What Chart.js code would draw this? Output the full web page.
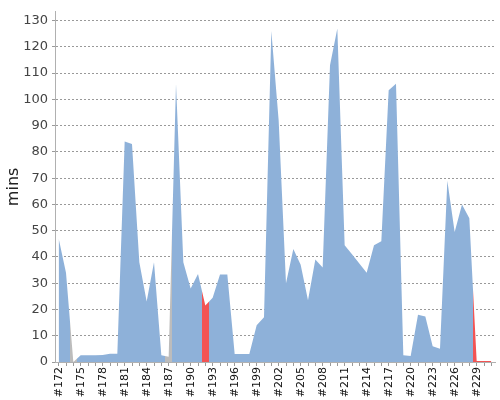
<!DOCTYPE html>
<html>
<head>
<meta charset="utf-8">
<script src="https://cdn.jsdelivr.net/npm/chart.js@4/dist/chart.umd.min.js"></script>
<style>
  html, body { margin: 0; padding: 0; background: #fff; }
  #wrap { width: 500px; height: 400px; }
</style>
</head>
<body>
<div id="wrap"><canvas id="trend"></canvas></div>
<script>
// Build numbers shown on the x axis
const builds = [
  172, 173, 174, 175, 176, 177, 178, 179, 180, 181,
  182, 183, 184, 185, 186, 187, 188, 189, 190, 191,
  192, 193, 194, 195, 196, 197, 198, 199, 200, 201,
  202, 203, 204, 205, 206, 207, 208, 209, 210, 211,
  212, 213, 214, 215, 216, 217, 218, 219, 220, 221,
  222, 223, 224, 225, 226, 227, 228, 229, 230, 231
];

// Duration of each build, in minutes
const durations = [
  47, 34, 0, 2.6, 2.6, 2.6, 2.7, 3.1, 3.1, 84,
  83, 38, 23, 38, 2.6, 2, 106, 38, 28, 33.5,
  21.5, 24.5, 33.3, 33.3, 3, 3, 3, 14, 17, 126,
  92, 30, 43, 37, 23.5, 39, 36, 113, 127, 44.5,
  41, 37.5, 34, 44.5, 46, 103.5, 106, 2.6, 2.3, 18,
  17.3, 6, 5, 69, 49.5, 60, 54.7, 0.4, 0.4, 0.4
];

// Result of each build: S = success, A = aborted, F = failed
const results = [
  'S', 'S', 'A', 'S', 'S', 'S', 'S', 'S', 'S', 'S',
  'S', 'S', 'S', 'S', 'S', 'A', 'S', 'S', 'S', 'S',
  'F', 'S', 'S', 'S', 'S', 'S', 'S', 'S', 'S', 'S',
  'S', 'S', 'S', 'S', 'S', 'S', 'S', 'S', 'S', 'S',
  'S', 'S', 'S', 'S', 'S', 'S', 'S', 'S', 'S', 'S',
  'S', 'S', 'S', 'S', 'S', 'S', 'S', 'F', 'F', 'F'
];

const yTicks = [0, 10, 20, 30, 40, 50, 60, 70, 80, 90, 100, 110, 120, 130];

const resultColors = {
  S: 'rgb(142, 177, 217)',
  A: 'rgb(188, 188, 188)',
  F: 'rgb(242, 84, 84)',
};

const FONT = '"DejaVu Sans", "Liberation Sans", sans-serif';

// each build owns the stretch from halfway to the previous build to halfway to the next one
function areaFill(context) {
  const chart = context.chart;
  const area = chart.chartArea;
  const xs = chart.scales.x;
  if (!area || !xs) return resultColors.S;
  const g = chart.ctx.createLinearGradient(area.left, 0, area.right, 0);
  const w = area.right - area.left;
  const frac = px => Math.min(1, Math.max(0, (px - area.left) / w));
  for (let i = 0; i < builds.length; i++) {
    const c = resultColors[results[i]];
    const here = xs.getPixelForValue(i);
    const from = i === 0 ? area.left : (xs.getPixelForValue(i - 1) + here) / 2;
    const to = i === builds.length - 1 ? area.right : (xs.getPixelForValue(i + 1) + here) / 2;
    g.addColorStop(frac(from), c);
    g.addColorStop(frac(to), c);
  }
  return g;
}

const ctx = document.getElementById('trend').getContext('2d');
new Chart(ctx, {
  type: 'line',
  data: {
    labels: builds.map(b => '#' + b),
    datasets: [
      {
        data: durations,
        fill: 'origin',
        backgroundColor: areaFill,
        borderWidth: 0,
        pointRadius: 0,
        tension: 0,
      },
    ],
  },
  options: {
    responsive: true,
    maintainAspectRatio: false,
    animation: false,
    layout: { padding: { top: 4, right: 5, left: 0, bottom: 0 } },
    plugins: {
      legend: { display: false },
      tooltip: { enabled: false },
    },
    scales: {
      x: {
        type: 'category',
        offset: true,
        grid: {
          display: true,
          drawOnChartArea: false,
          drawTicks: true,
          tickLength: 4,
          tickColor: '#9a9a9a',
          offset: false,
        },
        border: { display: true, color: '#b0b0b0', width: 1 },
        ticks: {
          autoSkip: false,
          minRotation: 90,
          maxRotation: 90,
          padding: 1,
          color: '#111',
          font: { family: FONT, size: 11 },
          callback: function (value, index) {
            return index % 3 === 0 ? this.getLabelForValue(value) : '';
          },
        },
        afterFit: s => {
          s.height = 38;
          s.paddingLeft = 0;
          s.paddingRight = 0;
        },
      },
      y: {
        min: 0,
        max: 133.35,
        grid: {
          color: '#999',
          lineWidth: 1,
          drawTicks: true,
          tickLength: 3,
          tickColor: '#9a9a9a',
          tickBorderDash: [],
        },
        border: { display: true, color: '#b0b0b0', width: 1, dash: [2, 2] },
        afterBuildTicks: s => {
          s.ticks = yTicks.map(v => ({ value: v }));
        },
        ticks: {
          padding: 4,
          color: '#444',
          font: { family: FONT, size: 13 },
        },
        title: {
          display: true,
          text: 'mins',
          color: '#222',
          padding: { top: 4, bottom: 0 },
          font: { family: FONT, size: 16 },
        },
        afterFit: s => {
          s.width = 55;
        },
      },
    },
  },
});
</script>
</body>
</html>
